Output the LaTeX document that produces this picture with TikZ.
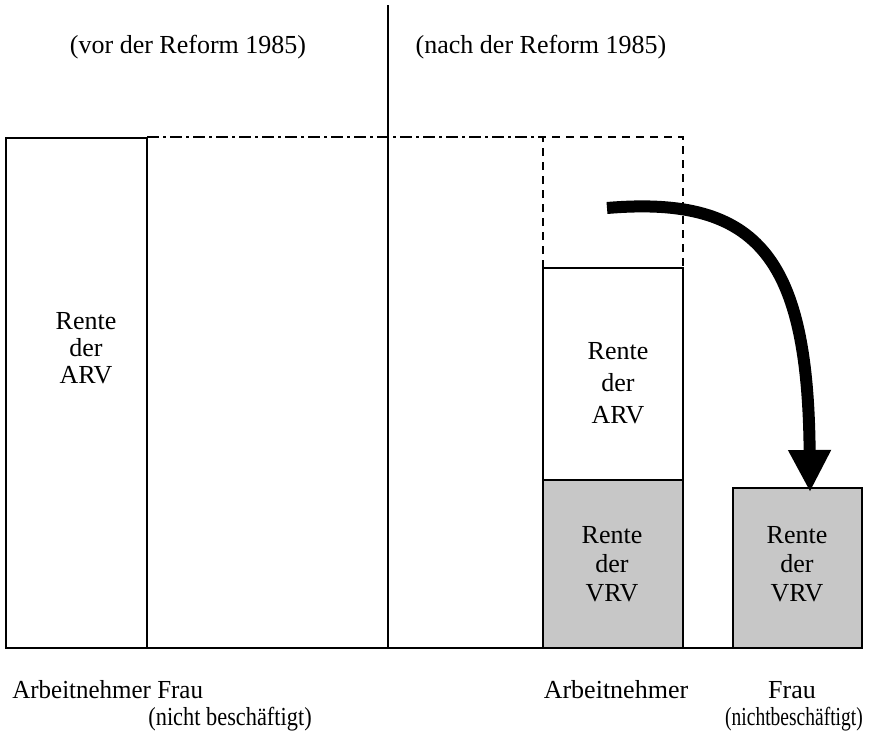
\documentclass[tikz,border=0pt]{standalone}
\usepackage{fontspec}
\setmainfont{Liberation Serif}
\usepackage{tikz}
\usetikzlibrary{arrows.meta}
\usetikzlibrary{positioning}
\tikzstyle{saeule}=[draw,line width=0.8pt]
\tikzstyle{vrv}=[saeule,fill=black!22]
\tikzstyle{leer}=[draw,line width=0.7pt,dash pattern=on 4pt off 3pt]
\tikzstyle{grenze}=[draw,line width=0.7pt,dash pattern=on 6pt off 2pt on 1.5pt off 2pt]
\tikzstyle{txt}=[align=center,inner sep=0]
\tikzstyle{umlage}=[line width=6pt,-{Triangle[length=21pt,width=20pt]}]

\begin{document}
\begin{tikzpicture}[x=0.5pt,y=-0.5pt,font=\fontsize{13}{16}\selectfont]
\useasboundingbox (0,0) rectangle (874,734);

% vor der Reform
\draw[saeule] (6,138) rectangle (147,648);
\draw[grenze] (147,137) -- (543,137);
\draw[saeule] (388,5) -- (388,648);
\draw[saeule] (5,648) -- (862,648);

% nach der Reform
\draw[leer] (543,268) -- (543,137) -- (683,137) -- (683,268);
\draw[saeule] (543,268) rectangle (683,480);
\draw[vrv] (543,480) rectangle (683,648);
\draw[vrv] (733,488) rectangle (862,648);

\node[txt] (vor) at (188,47) {(vor der Reform 1985)};
\node[txt] (nach) at (541,47) {(nach der Reform 1985)};

\node[txt,font=\fontsize{13}{13.5}\selectfont] (arvA) at (86,348) {Rente\\der\\ARV};
\node[txt] (arvB) at (618,383) {Rente\\der\\ARV};
\node[txt,font=\fontsize{13}{14.5}\selectfont] (vrvB) at (612,564) {Rente\\der\\VRV};
\node[txt,font=\fontsize{13}{14.5}\selectfont] (vrvF) at (797,564) {Rente\\der\\VRV};

\node[txt,anchor=west] (arbA) at (12,690) {\scalebox{0.96}[1]{Arbeitnehmer Frau}};
\node[txt,anchor=west] (frauA) at (148,719) {\scalebox{0.86}[1]{(nicht beschäftigt)}};
\node[txt] (arbB) at (616,690) {Arbeitnehmer};
\node[txt] (frauB) at (792,690) {Frau};
\node[txt] (nbB) at (794,719) {\scalebox{0.75}[1]{(nichtbeschäftigt)}};

\coordinate (ab) at (607,208);
\coordinate (an) at (810,492);
\draw[umlage] (ab) .. controls (760,195) and (808,260) .. (an);
\end{tikzpicture}
\end{document}
